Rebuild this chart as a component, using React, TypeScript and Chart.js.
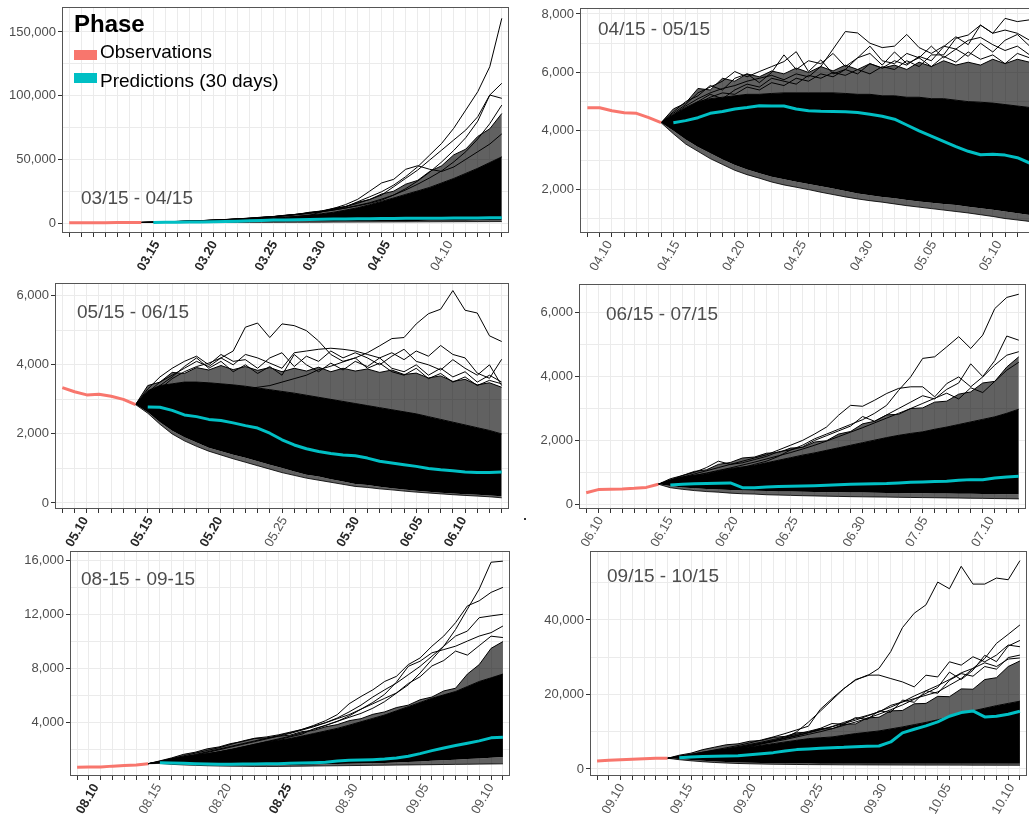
import React, { useEffect, useRef } from "react";
import { Chart, registerables } from "chart.js";
Chart.register(...registerables);

const FONT = "'Liberation Sans', Arial, Helvetica, sans-serif";
Chart.defaults.font.family = FONT;

// ---------------- Panel 1 : 03/15 - 04/15 ----------------
const p1Title = "03/15 - 04/15";
const p1TickLabels = ["03.15", "03.20", "03.25", "03.30", "04.05", "04.10"];
const p1TickAt = [7.3, 12.1, 17.1, 21.1, 26.5, 31.7];
const p1Bold = ["03.15", "03.20", "03.25", "03.30", "04.05"];
const p1YTicks = [0, 50000, 100000, 150000];
const p1YGrid = [0, 25000, 50000, 75000, 100000, 125000, 150000];
const p1YRange = [-7800, 169600];
const p1Obs = [180, 220, 260, 300, 350, 420, 500];
const p1Mean = [400, 550, 700, 800, 900, 1000, 1250, 1500, 1750, 2050, 2350, 2500, 2650, 2800, 2950, 3100, 3200, 3300, 3400, 3500, 3600, 3700, 3750, 3800, 3850, 3900, 3950, 4050, 4100, 4200];
const p1LoOuter = [500, 500, 490, 480, 490, 500, 510, 530, 550, 570, 590, 610, 640, 660, 690, 720, 750, 780, 810, 840, 870, 900, 930, 960, 990, 1020, 1050, 1080, 1110, 1140, 1170];
const p1LoInner = [500, 560, 610, 650, 700, 740, 790, 830, 880, 930, 980, 1030, 1080, 1130, 1190, 1240, 1290, 1340, 1400, 1450, 1500, 1560, 1610, 1660, 1720, 1770, 1830, 1880, 1940, 2000, 2050];
const p1HiInner = [500, 700, 900, 1100, 1300, 1550, 1800, 2100, 2450, 2850, 3300, 3800, 4400, 5300, 6300, 7300, 8500, 10200, 12000, 14400, 17000, 19700, 22500, 25200, 28000, 31500, 35000, 39000, 43000, 47500, 52000];
const p1HiOuter = [500, 760, 1050, 1280, 1650, 1900, 2450, 2750, 3400, 3800, 4650, 5100, 6200, 6900, 8500, 9500, 11600, 13000, 16300, 18500, 22800, 25000, 30500, 33500, 40500, 45000, 53500, 58000, 68000, 74000, 86000];
const p1PathA = [500, 700, 950, 1200, 1500, 1800, 2200, 2600, 3100, 3700, 4300, 5000, 5900, 6900, 8000, 9300, 10800, 12700, 16700, 20600, 24600, 29800, 36400, 44200, 53400, 62600, 74400, 88700, 103100, 122700, 160700];
const p1PathB = [500, 720, 960, 1250, 1550, 1900, 2300, 2700, 3200, 3750, 4400, 5100, 6000, 7000, 8100, 9400, 11000, 13000, 15500, 18500, 22000, 28500, 35100, 41600, 49500, 57300, 65200, 73000, 83500, 100500, 109700];
const p1PathC = [500, 740, 990, 1280, 1600, 1950, 2350, 2800, 3300, 3850, 4450, 5150, 5950, 6900, 7900, 9000, 10300, 11800, 13500, 15500, 18000, 22000, 27000, 33000, 40000, 48000, 57000, 67000, 80000, 100500, 97900];
const p1PathD = [500, 690, 900, 1150, 1400, 1700, 2000, 2400, 2800, 3200, 3700, 4200, 4700, 5200, 6000, 8900, 11500, 14500, 18600, 25000, 31500, 34300, 42200, 45000, 42200, 40500, 44000, 50000, 56000, 62000, 70000];
const p1PathE = [500, 710, 940, 1200, 1500, 1850, 2250, 2650, 3150, 3700, 4300, 4950, 5700, 6600, 7600, 8800, 10200, 11800, 13800, 16000, 18800, 22000, 26000, 30500, 35500, 41000, 48000, 56000, 66000, 78000, 92600];

// ---------------- Panel 2 : 04/15 - 05/15 ----------------
const p2Title = "04/15 - 05/15";
const p2TickLabels = ["04.10", "04.15", "04.20", "04.25", "04.30", "05.05", "05.10"];
const p2TickAt = [1.8, 7.3, 12.6, 17.6, 23.0, 28.2, 33.5];
const p2Bold: string[] = [];
const p2YTicks = [2000, 4000, 6000, 8000];
const p2YGrid = [1000, 2000, 3000, 4000, 5000, 6000, 7000, 8000];
const p2YRange = [504, 8205];
const p2Obs = [4790, 4790, 4690, 4620, 4600, 4450, 4280];
const p2Mean = [4280, 4350, 4450, 4600, 4660, 4750, 4800, 4860, 4850, 4850, 4750, 4690, 4670, 4660, 4650, 4630, 4570, 4500, 4400, 4200, 4000, 3820, 3640, 3460, 3300, 3180, 3200, 3170, 3080, 2900];
const p2LoOuter = [4280, 3900, 3550, 3300, 3050, 2850, 2650, 2500, 2380, 2250, 2150, 2070, 1990, 1900, 1820, 1740, 1670, 1610, 1560, 1500, 1440, 1390, 1340, 1290, 1240, 1190, 1130, 1070, 1000, 950, 900];
const p2LoInner = [4280, 4000, 3700, 3450, 3230, 3020, 2830, 2680, 2550, 2430, 2340, 2260, 2180, 2100, 2030, 1940, 1860, 1800, 1740, 1690, 1630, 1580, 1540, 1500, 1460, 1400, 1350, 1300, 1240, 1180, 1120];
const p2HiInner = [4280, 4550, 4800, 5000, 5100, 5150, 5200, 5250, 5250, 5280, 5300, 5300, 5300, 5300, 5300, 5280, 5250, 5250, 5200, 5200, 5150, 5150, 5100, 5100, 5050, 5000, 4980, 4950, 4900, 4850, 4800];
const p2HiOuter = [4280, 4750, 4950, 5450, 5400, 5800, 5700, 5950, 5850, 6050, 5950, 6150, 6000, 6200, 6050, 6250, 6100, 6300, 6150, 6250, 6100, 6350, 6200, 6400, 6250, 6350, 6250, 6450, 6300, 6450, 6350];
const p2PathA = [4280, 4550, 4850, 5100, 5300, 5450, 5550, 5700, 5800, 5900, 5750, 5950, 5850, 6200, 6800, 7400, 7350, 7000, 6850, 6900, 7300, 6850, 6650, 6900, 6800, 7100, 7200, 6950, 6750, 6900, 6600];
const p2PathB = [4280, 4500, 4750, 5000, 5250, 5100, 5400, 5600, 5500, 5800, 5700, 5600, 5900, 5800, 6000, 5900, 6100, 5950, 6200, 6100, 6400, 6200, 6600, 6600, 7170, 7280, 7620, 7340, 7850, 7740, 7800];
const p2PathC = [4280, 4600, 4900, 5300, 5500, 5700, 6030, 5850, 6030, 6200, 6370, 6710, 6030, 6430, 5950, 6100, 6500, 6650, 6250, 6700, 6300, 6500, 6200, 6550, 6350, 6700, 6450, 6600, 6300, 6650, 6500];
const p2PathD = [4280, 4500, 4700, 4950, 5150, 5300, 5250, 5500, 5400, 5650, 5550, 5800, 5700, 5950, 5850, 6100, 5950, 6300, 6150, 6400, 6250, 6550, 6400, 6880, 7220, 6950, 7620, 7340, 7450, 7340, 7100];
const p2PathE = [4280, 4650, 5000, 5200, 5550, 5400, 5800, 5950, 5650, 6000, 6600, 6100, 6400, 6300, 6650, 6200, 6500, 6900, 6400, 6300, 6650, 6500, 6900, 6500, 6800, 6550, 7000, 6700, 7100, 7300, 6900];

// ---------------- Panel 3 : 05/15 - 06/15 ----------------
const p3Title = "05/15 - 06/15";
const p3TickLabels = ["05.10", "05.15", "05.20", "05.25", "05.30", "06.05", "06.10"];
const p3TickAt = [1.9, 7.2, 12.9, 18.2, 24.1, 29.3, 32.9];
const p3Bold = ["05.10", "05.15", "05.20", "05.30", "06.05", "06.10"];
const p3YTicks = [0, 2000, 4000, 6000];
const p3YGrid = [0, 1000, 2000, 3000, 4000, 5000, 6000];
const p3YRange = [-174, 6369];
const p3Obs = [3340, 3220, 3130, 3150, 3090, 3000, 2850];
const p3Mean = [2780, 2770, 2680, 2550, 2500, 2420, 2390, 2320, 2240, 2170, 2020, 1830, 1680, 1570, 1490, 1430, 1390, 1365, 1300, 1210, 1160, 1110, 1060, 1000, 960, 930, 900, 885, 885, 895];
const p3LoOuter = [2850, 2600, 2280, 2000, 1800, 1640, 1500, 1390, 1280, 1180, 1080, 980, 880, 800, 720, 660, 600, 540, 480, 450, 410, 380, 345, 315, 290, 265, 240, 220, 200, 180, 150];
const p3LoInner = [2850, 2630, 2340, 2090, 1900, 1750, 1600, 1500, 1400, 1310, 1210, 1110, 1010, 910, 815, 765, 690, 620, 550, 520, 470, 430, 390, 355, 325, 295, 275, 255, 235, 215, 195];
const p3HiInner = [2850, 3250, 3400, 3450, 3500, 3500, 3480, 3450, 3420, 3380, 3330, 3280, 3230, 3180, 3120, 3060, 3000, 2940, 2880, 2820, 2760, 2700, 2640, 2580, 2500, 2420, 2340, 2260, 2180, 2100, 2000];
const p3HiOuter = [2850, 3400, 3500, 3780, 3750, 3920, 3850, 3980, 3860, 3950, 3840, 3920, 3800, 3900, 3820, 3930, 3800, 3900, 3820, 3880, 3780, 3850, 3720, 3760, 3620, 3680, 3520, 3580, 3420, 3480, 3350];
const p3PathA = [2850, 2900, 2950, 3000, 3050, 3100, 3150, 3200, 3250, 3300, 3350, 3400, 3500, 3600, 3700, 3860, 3960, 4085, 4200, 4350, 4550, 4760, 4790, 5185, 5480, 5610, 6150, 5580, 5500, 4840, 4675];
const p3PathB = [2850, 3100, 3300, 3600, 3800, 3950, 4050, 4200, 4400, 5090, 5210, 4790, 5185, 5135, 4990, 4690, 4300, 4100, 4200, 3900, 4050, 3800, 3700, 3900, 3600, 3750, 3500, 3650, 3400, 3550, 3450];
const p3PathC = [2850, 3200, 3500, 3700, 3900, 4100, 3950, 4200, 4000, 4300, 4200, 4050, 3900, 4350, 4400, 4450, 4480, 4450, 4400, 4300, 4200, 4350, 4150, 4400, 4250, 4560, 4300, 4200, 3760, 3610, 4160];
const p3PathD = [2850, 3150, 3400, 3650, 3950, 4200, 3900, 4100, 3800, 4000, 3750, 3950, 3700, 4300, 4000, 3800, 4050, 3850, 4100, 3950, 4200, 3900, 3800, 4000, 3700, 3900, 3650, 3800, 3500, 3700, 3500];
const p3PathE = [2850, 3300, 3650, 3900, 4100, 4250, 4000, 4300, 4100, 4150, 3900, 4200, 4350, 3950, 4250, 4100, 4400, 4200, 4350, 4200, 4000, 4250, 4450, 4100, 4000, 3850, 4150, 3900, 3700, 4000, 3400];

// ---------------- Panel 4 : 06/15 - 07/15 ----------------
const p4Title = "06/15 - 07/15";
const p4TickLabels = ["06.10", "06.15", "06.20", "06.25", "06.30", "07.05", "07.10"];
const p4TickAt = [1.2, 7.0, 12.4, 17.4, 23.0, 28.2, 33.7];
const p4Bold: string[] = [];
const p4YTicks = [0, 2000, 4000, 6000];
const p4YGrid = [0, 1000, 2000, 3000, 4000, 5000, 6000];
const p4YRange = [-147, 6900];
const p4Obs = [360, 460, 470, 480, 500, 530, 630];
const p4Mean = [606, 627, 640, 650, 660, 670, 520, 520, 540, 560, 565, 575, 585, 600, 610, 625, 637, 640, 648, 669, 690, 700, 711, 720, 752, 773, 770, 825, 857, 878];
const p4LoOuter = [630, 520, 470, 430, 400, 380, 350, 330, 320, 300, 290, 280, 270, 262, 255, 248, 240, 235, 230, 226, 220, 215, 210, 206, 200, 196, 190, 186, 180, 176, 170];
const p4LoInner = [630, 570, 530, 500, 480, 462, 446, 434, 424, 414, 405, 398, 391, 386, 380, 375, 370, 366, 361, 356, 352, 348, 344, 340, 336, 332, 328, 324, 320, 316, 312];
const p4HiInner = [630, 750, 857, 910, 960, 1040, 1120, 1170, 1220, 1300, 1380, 1460, 1540, 1610, 1690, 1770, 1850, 1930, 2010, 2090, 2160, 2220, 2270, 2350, 2420, 2500, 2580, 2660, 2740, 2850, 2980];
const p4HiOuter = [630, 800, 900, 1030, 1080, 1250, 1310, 1450, 1480, 1600, 1620, 1760, 1780, 1950, 1990, 2200, 2280, 2520, 2600, 2800, 2820, 3000, 3020, 3200, 3230, 3450, 3520, 3800, 3850, 4300, 4620];
const p4PathA = [630, 720, 800, 850, 900, 950, 1050, 1150, 1250, 1350, 1500, 1700, 1850, 2050, 2200, 2350, 2500, 2650, 2850, 3100, 3570, 3990, 4570, 4620, 4930, 5250, 4880, 5300, 6130, 6480, 6580];
const p4PathB = [630, 750, 900, 1000, 1150, 1350, 1250, 1300, 1400, 1500, 1650, 1700, 1800, 2000, 2150, 2300, 2450, 2750, 2600, 2800, 3000, 3200, 3400, 3300, 3600, 3800, 4400, 4000, 4500, 5270, 5140];
const p4PathC = [630, 760, 850, 950, 1050, 1150, 1250, 1350, 1450, 1550, 1700, 1850, 2000, 2200, 2420, 2790, 3100, 3070, 3260, 3470, 3630, 3680, 3680, 3365, 3780, 3990, 3680, 3990, 4360, 4670, 4780];
const p4PathD = [630, 740, 830, 900, 980, 1060, 1140, 1230, 1320, 1420, 1520, 1620, 1730, 1850, 1980, 2120, 2260, 2400, 2550, 2700, 2850, 3000, 3160, 3320, 3480, 3300, 3650, 3500, 3850, 4200, 4450];

// ---------------- Panel 5 : 08-15 - 09-15 ----------------
const p5Title = "08-15 - 09-15";
const p5TickLabels = ["08.10", "08.15", "08.20", "08.25", "08.30", "09.05", "09.10"];
const p5TickAt = [1.6, 6.9, 12.8, 17.9, 23.5, 29.5, 35.0];
const p5Bold = ["08.10", "08.25"];
const p5YTicks = [4000, 8000, 12000, 16000];
const p5YGrid = [2000, 4000, 6000, 8000, 10000, 12000, 14000, 16000];
const p5YRange = [60, 16700];
const p5Obs = [700, 720, 720, 790, 840, 870, 970];
const p5Mean = [1043, 1020, 995, 970, 945, 920, 920, 944, 944, 969, 969, 994, 1020, 1043, 1070, 1170, 1217, 1242, 1270, 1316, 1390, 1515, 1714, 1937, 2136, 2310, 2484, 2658, 2880, 2930];
const p5LoOuter = [970, 990, 920, 880, 850, 820, 800, 790, 780, 770, 770, 770, 780, 790, 800, 810, 820, 830, 840, 850, 860, 870, 880, 890, 900, 910, 920, 930, 940, 950, 960];
const p5LoInner = [970, 1000, 960, 930, 900, 880, 860, 850, 840, 840, 840, 850, 860, 880, 900, 920, 940, 960, 980, 1000, 1030, 1060, 1100, 1140, 1180, 1220, 1260, 1310, 1360, 1410, 1460];
const p5HiInner = [970, 1093, 1340, 1470, 1590, 1710, 1840, 2020, 2210, 2400, 2580, 2700, 2830, 3010, 3200, 3390, 3580, 3820, 4070, 4320, 4570, 4880, 5190, 5500, 5810, 6060, 6310, 6680, 7050, 7320, 7600];
const p5HiOuter = [970, 1180, 1400, 1660, 1820, 2070, 2210, 2460, 2610, 2830, 2880, 3000, 3080, 3340, 3430, 3700, 3860, 4150, 4300, 4620, 4800, 5120, 5300, 5700, 5900, 6350, 6550, 7600, 8300, 9500, 10000];
const p5PathA = [970, 1100, 1250, 1400, 1550, 1700, 1850, 2000, 2200, 2400, 2600, 2800, 3000, 3250, 3500, 3800, 4100, 4400, 4690, 5070, 5560, 6190, 6800, 7680, 8670, 9660, 10900, 12400, 13890, 15870, 15950];
const p5PathB = [970, 1120, 1300, 1480, 1650, 1850, 2050, 2250, 2450, 2650, 2850, 3050, 3250, 3500, 3800, 4150, 4600, 5400, 5940, 6430, 7050, 7430, 8300, 8790, 9660, 10410, 11400, 12640, 13020, 13640, 14010];
const p5PathC = [970, 1100, 1280, 1450, 1600, 1800, 2000, 2200, 2400, 2600, 2800, 3000, 3200, 3450, 3700, 4000, 4350, 4800, 5300, 5900, 6430, 6930, 7550, 8170, 8920, 9660, 10410, 10780, 11770, 11900, 12020];
const p5PathD = [970, 1080, 1230, 1380, 1520, 1680, 1840, 2000, 2180, 2360, 2550, 2750, 2950, 3150, 3550, 3800, 4100, 4500, 5000, 5500, 6100, 7000, 8170, 8550, 9170, 9410, 9660, 10040, 10410, 10660, 11150];
const p5PathE = [970, 1150, 1350, 1550, 1750, 1950, 2150, 2400, 2650, 2850, 2950, 3100, 3300, 3500, 3750, 4000, 4300, 4600, 5000, 5400, 5800, 6200, 6900, 7400, 8200, 8600, 9300, 9000, 9700, 10400, 10300];

// ---------------- Panel 6 : 09/15 - 10/15 ----------------
const p6Title = "09/15 - 10/15";
const p6TickLabels = ["09.10", "09.15", "09.20", "09.25", "09.30", "10.05", "10.10"];
const p6TickAt = [2.1, 7.9, 13.3, 19.0, 24.4, 29.9, 35.3];
const p6Bold: string[] = [];
const p6YTicks = [0, 20000, 40000];
const p6YGrid = [0, 10000, 20000, 30000, 40000, 50000];
const p6YRange = [-1880, 58500];
const p6Obs = [2150, 2330, 2450, 2600, 2780, 2880, 2880];
const p6Mean = [3050, 3230, 3320, 3400, 3490, 3580, 3850, 4120, 4390, 4840, 5200, 5380, 5560, 5730, 5820, 6000, 6090, 6180, 7260, 9680, 10660, 11560, 12630, 14160, 15140, 15590, 13980, 14160, 14690, 15500];
const p6LoOuter = [2880, 2500, 2200, 1950, 1750, 1600, 1480, 1400, 1330, 1280, 1240, 1210, 1180, 1160, 1140, 1120, 1110, 1100, 1090, 1080, 1070, 1060, 1050, 1050, 1040, 1040, 1030, 1030, 1020, 1020, 1010];
const p6LoInner = [2880, 2700, 2400, 2200, 2000, 1850, 1750, 1650, 1600, 1550, 1500, 1480, 1460, 1440, 1420, 1410, 1400, 1400, 1400, 1400, 1400, 1400, 1400, 1400, 1400, 1400, 1400, 1400, 1400, 1400, 1400];
const p6HiInner = [2880, 3400, 3950, 4500, 5020, 5250, 5470, 5900, 6360, 6800, 7260, 7700, 8150, 8380, 8600, 9050, 9500, 9850, 10210, 10750, 11290, 11900, 12500, 13200, 14000, 14800, 15600, 16300, 17000, 17600, 18200];
const p6HiOuter = [2880, 3700, 4250, 5200, 5850, 6500, 6750, 7450, 7650, 8500, 8750, 9700, 9900, 10800, 10800, 12000, 12100, 13700, 13900, 15600, 15700, 17500, 17600, 19500, 19400, 21500, 21400, 24000, 24500, 27500, 29000];
const p6PathA = [2880, 3200, 3500, 4000, 4400, 4900, 5400, 6000, 6800, 7500, 8300, 10000, 12600, 15500, 18500, 21500, 24000, 25000, 27000, 31500, 37940, 41800, 44050, 50160, 48370, 54390, 49620, 49620, 51240, 50790, 55920];
const p6PathB = [2880, 3300, 3800, 4300, 4800, 5300, 5800, 6400, 7000, 7600, 8300, 9000, 9800, 10600, 11400, 12500, 13490, 14380, 15280, 17080, 17980, 18880, 19780, 20680, 22480, 24270, 26970, 29670, 33710, 36140, 38660];
const p6PathC = [2880, 3400, 3900, 4500, 5100, 5700, 6300, 7000, 7800, 8600, 9500, 10500, 11500, 16000, 18880, 21580, 23820, 25170, 25200, 24270, 23370, 22030, 25170, 24700, 28770, 27870, 30120, 28770, 30570, 33260, 32810];
const p6PathD = [2880, 3350, 3850, 4350, 4900, 5450, 6000, 6600, 7200, 7900, 8600, 9300, 10100, 10900, 12200, 12000, 13800, 13300, 15600, 15200, 18500, 17900, 21000, 20300, 23800, 25600, 24900, 27500, 26800, 29900, 30570];
const p6PathE = [2880, 3300, 3700, 4200, 4700, 5200, 5700, 6300, 6900, 7600, 8200, 8900, 9700, 10500, 11300, 12200, 13100, 14200, 15400, 16600, 18000, 19600, 21000, 22400, 24000, 25800, 27000, 28500, 27500, 29500, 29800];
const p6PathF = [2880, 3250, 3650, 4100, 4600, 5100, 5600, 6100, 6700, 7300, 7900, 8600, 9300, 10000, 10800, 11700, 12600, 13600, 14700, 15900, 17200, 18700, 20300, 21900, 26000, 24000, 26500, 30500, 28800, 33000, 34500];

// shared day structure
const DAYS = 37; // day 0 .. day 36
const OBS_START = 0;
const SIM_START = 6;
const MEAN_START = 7;

// ---------------- layout (pixels) ----------------
const YW = 60; // y-axis label area
const XH = 50; // x-axis label area
const PT = 12;
const PR = 20;

type Spec = {
  title: string; tickLabels: string[]; tickAt: number[]; bold: string[];
  yTicks: number[]; yGrid: number[]; yRange: number[];
  obs: number[]; mean: number[]; loOuter: number[]; loInner: number[]; hiInner: number[]; hiOuter: number[];
  paths: number[][];
  box: { l: number; t: number; w: number; h: number };
  titlePos: { l: number; t: number };
};

const SPECS: Spec[] = [
  { title: p1Title, tickLabels: p1TickLabels, tickAt: p1TickAt, bold: p1Bold, yTicks: p1YTicks, yGrid: p1YGrid, yRange: p1YRange,
    obs: p1Obs, mean: p1Mean, loOuter: p1LoOuter, loInner: p1LoInner, hiInner: p1HiInner, hiOuter: p1HiOuter,
    paths: [p1PathA, p1PathB, p1PathC, p1PathD, p1PathE], box: { l: 62, t: 7, w: 447, h: 226 }, titlePos: { l: 81, t: 187 } },
  { title: p2Title, tickLabels: p2TickLabels, tickAt: p2TickAt, bold: p2Bold, yTicks: p2YTicks, yGrid: p2YGrid, yRange: p2YRange,
    obs: p2Obs, mean: p2Mean, loOuter: p2LoOuter, loInner: p2LoInner, hiInner: p2HiInner, hiOuter: p2HiOuter,
    paths: [p2PathA, p2PathB, p2PathC, p2PathD, p2PathE], box: { l: 580, t: 8, w: 457, h: 225 }, titlePos: { l: 598, t: 18 } },
  { title: p3Title, tickLabels: p3TickLabels, tickAt: p3TickAt, bold: p3Bold, yTicks: p3YTicks, yGrid: p3YGrid, yRange: p3YRange,
    obs: p3Obs, mean: p3Mean, loOuter: p3LoOuter, loInner: p3LoInner, hiInner: p3HiInner, hiOuter: p3HiOuter,
    paths: [p3PathA, p3PathB, p3PathC, p3PathD, p3PathE], box: { l: 55, t: 283, w: 454, h: 226 }, titlePos: { l: 77, t: 301 } },
  { title: p4Title, tickLabels: p4TickLabels, tickAt: p4TickAt, bold: p4Bold, yTicks: p4YTicks, yGrid: p4YGrid, yRange: p4YRange,
    obs: p4Obs, mean: p4Mean, loOuter: p4LoOuter, loInner: p4LoInner, hiInner: p4HiInner, hiOuter: p4HiOuter,
    paths: [p4PathA, p4PathB, p4PathC, p4PathD], box: { l: 579, t: 284, w: 447, h: 225 }, titlePos: { l: 606, t: 303 } },
  { title: p5Title, tickLabels: p5TickLabels, tickAt: p5TickAt, bold: p5Bold, yTicks: p5YTicks, yGrid: p5YGrid, yRange: p5YRange,
    obs: p5Obs, mean: p5Mean, loOuter: p5LoOuter, loInner: p5LoInner, hiInner: p5HiInner, hiOuter: p5HiOuter,
    paths: [p5PathA, p5PathB, p5PathC, p5PathD, p5PathE], box: { l: 70, t: 551, w: 440, h: 225 }, titlePos: { l: 81, t: 568 } },
  { title: p6Title, tickLabels: p6TickLabels, tickAt: p6TickAt, bold: p6Bold, yTicks: p6YTicks, yGrid: p6YGrid, yRange: p6YRange,
    obs: p6Obs, mean: p6Mean, loOuter: p6LoOuter, loInner: p6LoInner, hiInner: p6HiInner, hiOuter: p6HiOuter,
    paths: [p6PathA, p6PathB, p6PathC, p6PathD, p6PathE, p6PathF], box: { l: 590, t: 551, w: 437, h: 225 }, titlePos: { l: 607, t: 565 } },
];

const framePlugin = {
  id: "frameBox",
  afterDraw(chart: any) {
    const { ctx, chartArea: a } = chart;
    ctx.save();
    ctx.strokeStyle = "#555555";
    ctx.lineWidth = 1;
    ctx.strokeRect(Math.round(a.left) + 0.5, Math.round(a.top) + 0.5, Math.round(a.right - a.left) - 1, Math.round(a.bottom - a.top) - 1);
    ctx.restore();
  },
};

function makeConfig(s: Spec): any {
  const pts = (arr: number[], start: number) => arr.map((v, i) => ({ x: start + i, y: v }));
  const line = (data: any[], color: string, width: number, order: number, extra: any = {}) => ({
    data, borderColor: color, borderWidth: width, pointRadius: 0, fill: false, order, ...extra,
  });
  const datasets: any[] = [
    line(pts(s.loOuter, SIM_START), "rgba(0,0,0,0.85)", 1, 6),
    line(pts(s.loInner, SIM_START), "rgba(0,0,0,0)", 1, 5, { fill: "-1", backgroundColor: "rgba(0,0,0,0.62)" }),
    line(pts(s.hiInner, SIM_START), "#000000", 1, 4, { fill: "-1", backgroundColor: "#000000" }),
    line(pts(s.hiOuter, SIM_START), "#000000", 1, 3, { fill: "-1", backgroundColor: "rgba(0,0,0,0.62)" }),
    ...s.paths.map((p) => line(pts(p, SIM_START), "#000000", 1, 2)),
    line(pts(s.mean, MEAN_START), "#00BFC4", 3, 1),
    line(pts(s.obs, OBS_START), "#F8766D", 3, 0),
  ];
  return {
    type: "line",
    data: { datasets },
    plugins: [framePlugin],
    options: {
      animation: false,
      responsive: false,
      maintainAspectRatio: false,
      events: [],
      layout: { padding: { top: PT, right: PR, left: 0, bottom: 0 } },
      plugins: { legend: { display: false }, tooltip: { enabled: false }, title: { display: false } },
      elements: { point: { radius: 0 }, line: { tension: 0, borderJoinStyle: "round" } },
      scales: {
        x: {
          type: "linear",
          min: -0.6,
          max: DAYS - 1 + 0.6,
          afterFit: (sc: any) => { sc.height = XH; },
          afterBuildTicks: (sc: any) => {
            const t: any[] = [];
            for (let d = 0; d < DAYS; d++) t.push({ value: d, day: true });
            s.tickAt.forEach((v, i) => t.push({ value: v, lab: s.tickLabels[i], bold: s.bold.includes(s.tickLabels[i]) }));
            t.sort((a, b) => a.value - b.value);
            sc.ticks = t;
          },
          ticks: {
            autoSkip: false,
            minRotation: 60,
            maxRotation: 60,
            padding: 1,
            callback: (_v: any, i: number, ticks: any[]) => (ticks[i] && ticks[i].lab) || "",
            color: (c: any) => (c.tick && c.tick.bold ? "#262626" : "#555555"),
            font: (c: any) => ({ family: FONT, size: 13, weight: c.tick && c.tick.bold ? "bold" : "normal" }),
          },
          grid: {
            color: (c: any) => (c.tick && c.tick.day ? "#ebebeb" : "rgba(0,0,0,0)"),
            tickColor: (c: any) => (c.tick && c.tick.day ? "#333333" : "rgba(0,0,0,0)"),
            tickLength: 4,
            lineWidth: 1,
          },
          border: { display: false },
        },
        y: {
          type: "linear",
          min: s.yRange[0],
          max: s.yRange[1],
          afterFit: (sc: any) => { sc.width = YW; },
          afterBuildTicks: (sc: any) => {
            sc.ticks = s.yGrid.map((v) => ({ value: v, maj: s.yTicks.includes(v) }));
          },
          ticks: {
            padding: 2,
            color: "#4d4d4d",
            font: { family: FONT, size: 13 },
            callback: (_v: any, i: number, ticks: any[]) =>
              ticks[i] && ticks[i].maj ? Number(ticks[i].value).toLocaleString("en-US") : "",
          },
          grid: {
            color: "#ebebeb",
            tickColor: (c: any) => (c.tick && c.tick.maj ? "#333333" : "rgba(0,0,0,0)"),
            tickLength: 4,
            lineWidth: 1,
          },
          border: { display: false },
        },
      },
    },
  };
}

function Panel({ spec }: { spec: Spec }) {
  const ref = useRef<HTMLCanvasElement | null>(null);
  useEffect(() => {
    if (!ref.current) return;
    const chart = new Chart(ref.current, makeConfig(spec));
    return () => chart.destroy();
  }, [spec]);
  const b = spec.box;
  const W = YW + b.w + PR;
  const H = PT + b.h + XH;
  return (
    <>
      <canvas
        ref={ref}
        width={W}
        height={H}
        style={{ position: "absolute", left: b.l - YW, top: b.t - PT, width: W, height: H }}
      />
      <div
        style={{
          position: "absolute", left: spec.titlePos.l, top: spec.titlePos.t,
          font: `19px ${FONT}`, color: "#4d4d4d", whiteSpace: "nowrap",
        }}
      >
        {spec.title}
      </div>
    </>
  );
}

const legendTitle = "Phase";
const legendItems = ["Observations", "Predictions (30 days)"];
const legendColors = ["#F8766D", "#00BFC4"];

export default function App() {
  return (
    <div
      style={{
        position: "fixed", left: 0, top: 0, width: 1029, height: 814,
        overflow: "hidden", background: "#ffffff", fontFamily: FONT,
      }}
    >
      {SPECS.map((s, i) => (
        <Panel key={i} spec={s} />
      ))}
      <div style={{ position: "absolute", left: 74, top: 10, font: `bold 24px ${FONT}`, color: "#000" }}>{legendTitle}</div>
      {legendItems.map((t, i) => (
        <React.Fragment key={t}>
          <div style={{ position: "absolute", left: 74, top: 50 + i * 23, width: 23, height: 10, background: legendColors[i] }} />
          <div style={{ position: "absolute", left: 100, top: 41 + i * 29, font: `19px ${FONT}`, color: "#000", whiteSpace: "nowrap" }}>{t}</div>
        </React.Fragment>
      ))}
      <div style={{ position: "absolute", left: 524, top: 518, width: 2, height: 2, background: "#333" }} />
    </div>
  );
}
